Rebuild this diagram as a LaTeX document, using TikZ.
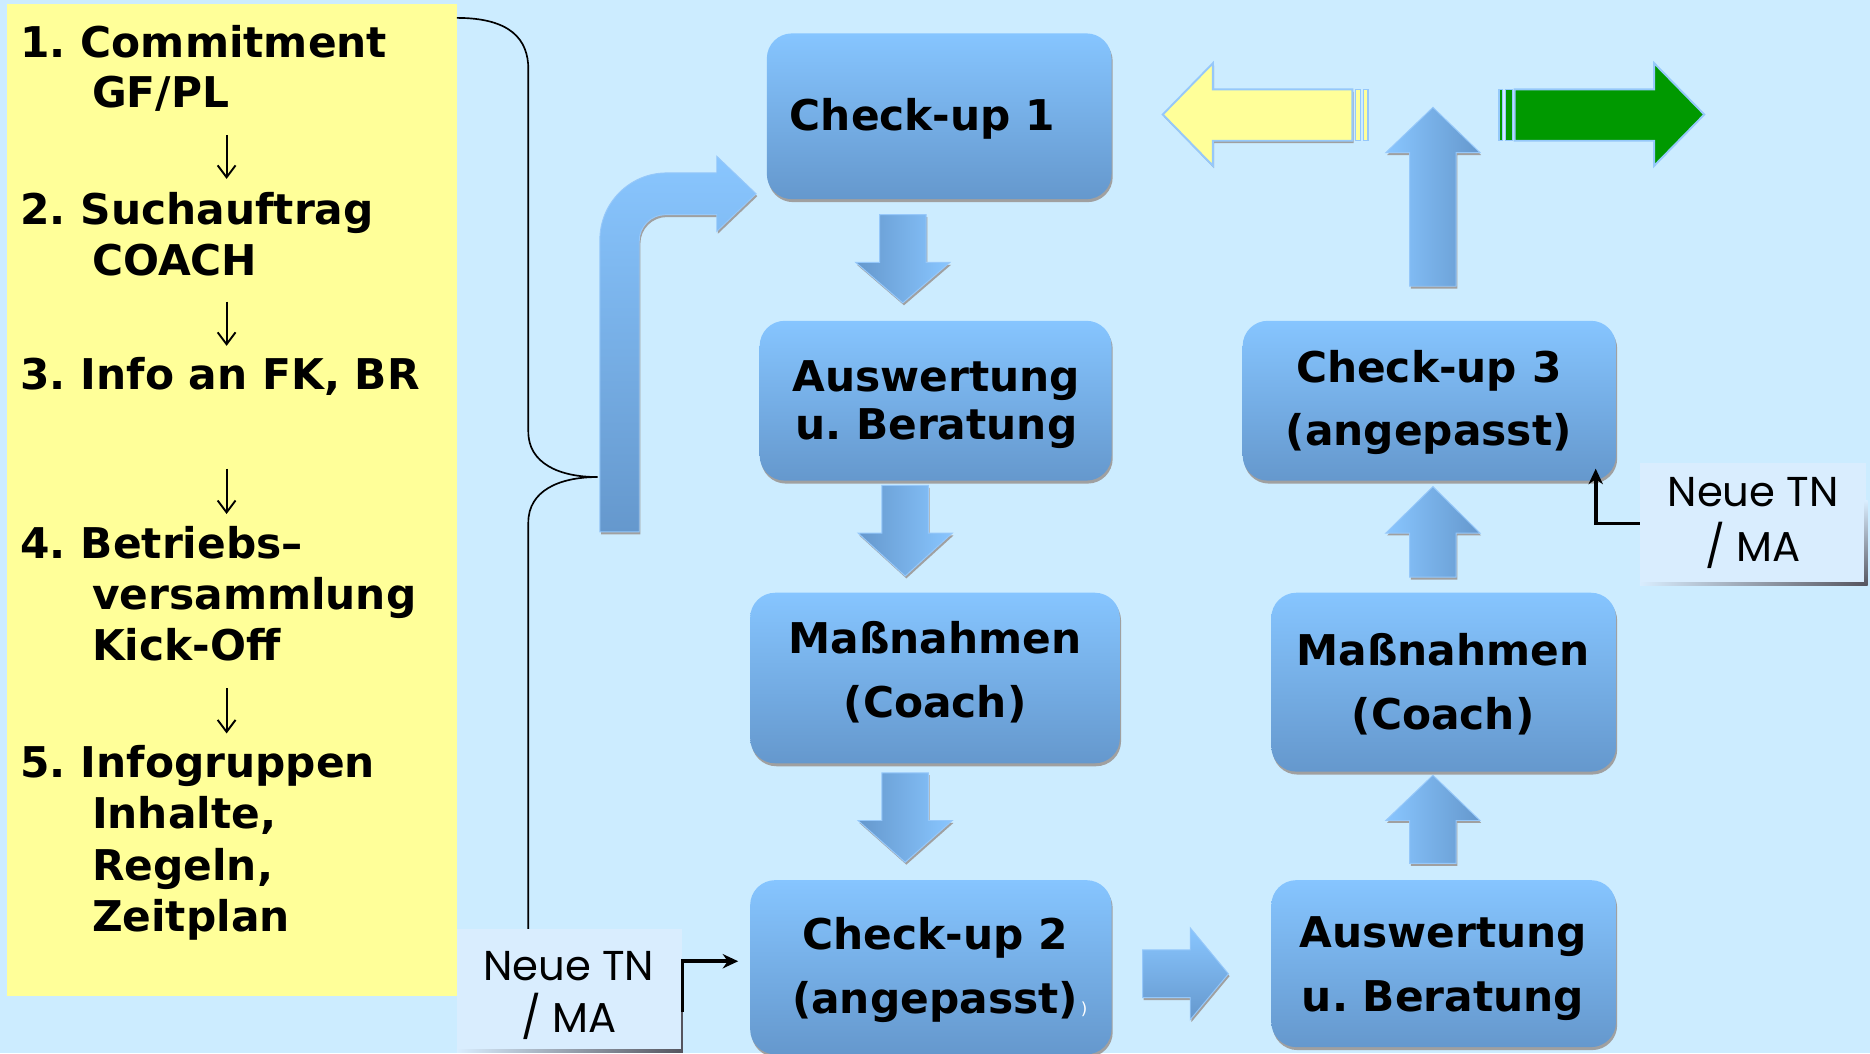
\documentclass[tikz,border=0pt]{standalone}
\usepackage{fontspec}
\setmainfont{DejaVu Sans}
\newfontfamily\popfont{Poppins}
\usetikzlibrary{arrows.meta,shadows}
\frenchspacing
\definecolor{bg}{RGB}{204,236,255}
\definecolor{yel}{RGB}{255,255,153}
\definecolor{btop}{RGB}{134,197,255}
\definecolor{bbot}{RGB}{101,152,205}
\definecolor{alight}{RGB}{137,198,255}
\definecolor{ntfill}{RGB}{217,237,254}
\definecolor{grn}{RGB}{0,153,0}
\definecolor{edgeblue}{RGB}{150,200,250}
\definecolor{shd}{RGB}{160,160,160}
\definecolor{ntshadow}{RGB}{85,85,95}
\tikzset{
  procbox/.style={rectangle, rounded corners=21pt, top color=btop, bottom color=bbot,
    inner sep=0pt, drop shadow={shadow xshift=1pt, shadow yshift=-2.5pt, fill=shd, opacity=1}},
  btxt/.style={font=\bfseries\fontsize{35.5}{53.5}\selectfont, align=center, inner sep=0pt},
  ltxt/.style={font=\bfseries\fontsize{35.5}{42}\selectfont, anchor=base west, inner sep=0pt},
  nttxt/.style={font=\popfont\fontsize{35}{44}\selectfont, align=center, inner sep=0pt},
  ntbox/.style={rectangle, fill=ntfill, inner sep=0pt},
  listarrow/.style={line width=1.6pt, -{Straight Barb[length=10pt,width=15pt]}},
  conn/.style={line width=3pt, -{Stealth[length=13pt,width=12pt]}},
  blockshadow/.style={drop shadow={shadow xshift=1pt, shadow yshift=-2pt, fill=shd, opacity=1}},
  uparr/.style={left color=alight, right color=bbot, draw=edgeblue, line width=0.8pt, blockshadow},
  downarr/.style={left color=bbot, right color=alight, draw=edgeblue, line width=0.8pt, blockshadow},
  rightarr/.style={top color=alight, bottom color=bbot, draw=edgeblue, line width=0.8pt, blockshadow},
  bigarr/.style={draw=edgeblue, line width=1.6pt},
  bracestyle/.style={line width=1.4pt}
}
\begin{document}
\begin{tikzpicture}[x=1pt,y=-1pt]
\useasboundingbox (0,0) rectangle (1568,883);
\fill[bg] (0,0) rectangle (1568,883);

% yellow list panel
\node[fill=yel, minimum width=377pt, minimum height=832pt, inner sep=0pt, anchor=north west] (list) at (6,3) {};

\node[ltxt] (l1a) at (17,48) {1. Commitment};
\node[ltxt] (l1b) at (77,90) {GF/PL};
\node[ltxt] (l2a) at (17,188) {2. Suchauftrag};
\node[ltxt] (l2b) at (77,231) {COACH};
\node[ltxt] (l3a) at (17,327) {3. Info an FK, BR};
\node[ltxt] (l4a) at (17,468) {4. Betriebs–};
\node[ltxt] (l4b) at (77,511) {versammlung};
\node[ltxt] (l4c) at (77,554) {Kick-Off};
\node[ltxt] (l5a) at (17,652) {5. Infogruppen};
\node[ltxt] (l5b) at (77,695) {Inhalte,};
\node[ltxt] (l5c) at (77,738) {Regeln,};
\node[ltxt] (l5d) at (77,781) {Zeitplan};

\coordinate (ar1s) at (190,113); \coordinate (ar1e) at (190,150);
\coordinate (ar2s) at (190,253); \coordinate (ar2e) at (190,290);
\coordinate (ar3s) at (190,393); \coordinate (ar3e) at (190,431);
\coordinate (ar4s) at (190,577); \coordinate (ar4e) at (190,615);
\draw[listarrow] (ar1s) -- (ar1e);
\draw[listarrow] (ar2s) -- (ar2e);
\draw[listarrow] (ar3s) -- (ar3e);
\draw[listarrow] (ar4s) -- (ar4e);

% brace
\coordinate (braceTop) at (383,15);
\coordinate (braceTip) at (501,400);
\coordinate (braceEnd) at (443,782);
\draw[bracestyle] (braceTop) .. controls (428,15) and (443,33) .. (443,58) -- (443,362)
  .. controls (443,388) and (468,400) .. (braceTip)
  .. controls (468,400) and (443,412) .. (443,438) -- (braceEnd);

% curved arrow
\path[top color=alight, bottom color=bbot, draw=edgeblue, line width=0.8pt, blockshadow]
  (503,446) -- (503,201) .. controls (503,170.1) and (528.1,145) .. (559,145)
  -- (601,145) -- (601,131) -- (634,162.5) -- (601,194) -- (601,180) -- (558,180)
  .. controls (545.9,180) and (536,189.9) .. (536,202) -- (536,446) -- cycle;

% process boxes
\node[procbox, minimum width=289pt, minimum height=139pt] (c1) at (787.5,97.5) {};
\node[procbox, minimum width=295pt, minimum height=134pt] (a1) at (784.5,336) {};
\node[procbox, minimum width=310pt, minimum height=143pt] (m1) at (784,568.5) {};
\node[procbox, minimum width=303pt, minimum height=146pt] (c2) at (780.5,811) {};
\node[procbox, minimum width=289pt, minimum height=140pt] (a2) at (1210.5,808) {};
\node[procbox, minimum width=289pt, minimum height=150pt] (m2) at (1210.5,572) {};
\node[procbox, minimum width=313pt, minimum height=134pt] (c3) at (1198.5,336) {};

\node[btxt] (c1t) at (773.5,100) {Check-up 1};
\node[btxt, font=\bfseries\fontsize{35.5}{40}\selectfont] (a1t) at (785,339) {Auswertung\\u. Beratung};
\node[btxt] (m1t) at (784,563.6) {Maßnahmen\\(Coach)};
\node[btxt] (c2t) at (784,813.5) {Check-up 2\\(angepasst)};
\node[font=\fontsize{14}{14}\selectfont, text=white, inner sep=0pt] (c2x) at (909,846) {)};
\node[btxt] (a2t) at (1210,812) {Auswertung\\u. Beratung};
\node[btxt] (m2t) at (1210,573.6) {Maßnahmen\\(Coach)};
\node[btxt] (c3t) at (1198,337.5) {Check-up 3\\(angepasst)};

% block arrows between boxes
\path[downarr] (737.5,180) -- (776.5,180) -- (776.5,220) -- (796.5,220) -- (757,254) -- (717.5,220) -- (737.5,220) -- cycle;
\path[downarr] (739.5,407) -- (778.5,407) -- (778.5,447) -- (798.5,447) -- (759,483) -- (719.5,447) -- (739.5,447) -- cycle;
\path[downarr] (739.5,648) -- (778.5,648) -- (778.5,688) -- (798.5,688) -- (759,723) -- (719.5,688) -- (739.5,688) -- cycle;
\path[rightarr] (958,796.5) -- (998,796.5) -- (998,778) -- (1030,816.5) -- (998,855) -- (998,836.5) -- (958,836.5) -- cycle;
\path[uparr] (1182,724) -- (1221,724) -- (1221,688) -- (1241,688) -- (1201.5,650) -- (1162,688) -- (1182,688) -- cycle;
\path[uparr] (1182,484) -- (1221,484) -- (1221,447) -- (1241,447) -- (1201.5,408) -- (1162,447) -- (1182,447) -- cycle;
\path[uparr] (1182,240) -- (1221,240) -- (1221,128) -- (1241,128) -- (1201.5,90) -- (1162,128) -- (1182,128) -- cycle;

% yellow and green arrows
\path[bigarr, fill=yel, blockshadow] (975,96) -- (1017,53) -- (1017,75) -- (1134,75) -- (1134,118) -- (1017,118) -- (1017,139) -- cycle;
\path[bigarr, fill=yel, line width=1.2pt] (1136.5,75) rectangle (1141,118);
\path[bigarr, fill=yel, line width=1.2pt] (1143.5,75) rectangle (1147,118);
\path[bigarr, fill=grn] (1270,75) -- (1387,75) -- (1387,53) -- (1429,96) -- (1387,139) -- (1387,118) -- (1270,118) -- cycle;
\path[bigarr, fill=grn, line width=1.2pt] (1257,75) rectangle (1260,118);
\path[bigarr, fill=grn, line width=1.2pt] (1262.5,75) rectangle (1268,118);

% Neue TN boxes
\node[ntbox, minimum width=189pt, minimum height=103pt] (nt1) at (477.5,830.5) {};
\shade[left color=ntfill, right color=ntshadow] (383,880) rectangle (572,882.5);
\draw[ntshadow, line width=1.6pt] (571.5,806) -- (571.5,883);
\node[nttxt] (nt1t) at (477,834.5) {Neue TN\\/ MA};

\node[ntbox, minimum width=190pt, minimum height=102pt] (nt2) at (1470,439) {\popfont\fontsize{35}{43}\selectfont\begin{tabular}{@{}c@{}}Neue TN\\/ MA\end{tabular}};
\shade[left color=ntfill, right color=ntshadow] (1375,488.5) rectangle (1565.5,491);
\shade[top color=ntfill, bottom color=ntshadow] (1563.5,420) rectangle (1566,491);

% connectors
\coordinate (c2in) at (619,806);
\coordinate (c3in) at (1338,393);
\draw[conn] ([yshift=-18pt]nt1.east) |- (c2in);
\draw[conn] (nt2.west) -| (c3in);
\end{tikzpicture}
\end{document}
